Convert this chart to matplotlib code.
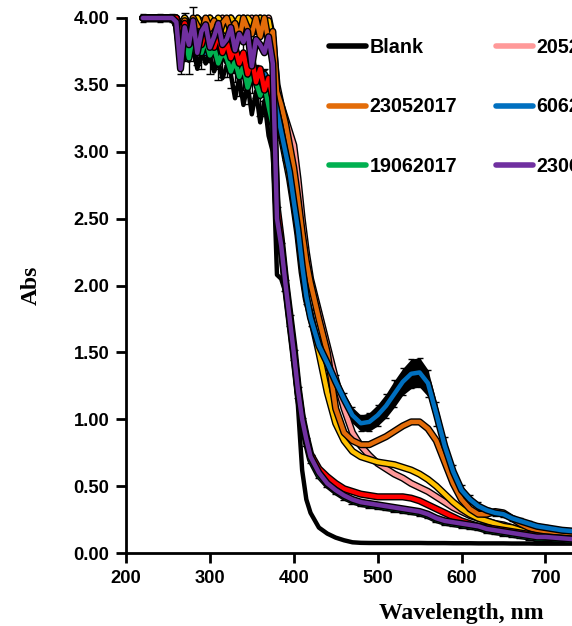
import matplotlib
matplotlib.use("Agg")
import matplotlib.pyplot as plt
from matplotlib.lines import Line2D
import numpy as np

# wavelength grid, nm
wl = [220, 240, 255, 260, 265, 270, 275, 280, 285, 290, 295, 300, 305, 310, 315, 320,
      325, 330, 335, 340, 345, 350, 355, 360, 365, 370, 375,
      380, 385, 390, 395, 400, 405, 410, 415, 420,
      430, 440, 450, 460, 470, 480, 490, 500, 510, 520, 530, 540, 550, 560, 570, 580,
      590, 600, 610, 620, 630, 640, 650, 660, 670, 680, 690, 700,
      720, 740, 760, 780, 800]

blank = [4.0, 4.0, 4.0, 3.98, 3.70, 3.85, 3.68, 3.78, 3.62, 3.74, 3.66, 3.72, 3.60, 3.68, 3.55, 3.64,
         3.58, 3.40, 3.55, 3.35, 3.50, 3.28, 3.45, 3.22, 3.38, 3.12, 3.00,
         2.08, 2.05, 1.95, 1.75, 1.45, 1.10, 0.62, 0.40, 0.30,
         0.19, 0.145, 0.115, 0.095, 0.08, 0.076, 0.075, 0.075, 0.075, 0.075, 0.075, 0.075, 0.075, 0.074, 0.074, 0.074,
         0.073, 0.073, 0.073, 0.072, 0.072, 0.072, 0.072, 0.071, 0.071, 0.071, 0.070, 0.070,
         0.070, 0.070, 0.069, 0.069, 0.068]

pink = [4.0, 4.0, 4.0, 4.0, 3.88, 4.0, 3.95, 3.86, 4.0, 3.97, 3.90, 4.0, 3.93, 3.84, 4.0, 3.96,
        4.0, 3.88, 3.98, 4.0, 3.86, 4.0, 3.94, 4.0, 3.90, 4.0, 3.85,
        3.50, 3.35, 3.25, 3.15, 3.05, 2.80, 2.50, 2.25, 2.05,
        1.80, 1.55, 1.30, 1.08, 0.90, 0.80, 0.73, 0.67, 0.63, 0.59, 0.56, 0.52, 0.49, 0.46, 0.42, 0.38,
        0.34, 0.31, 0.28, 0.26, 0.24, 0.22, 0.21, 0.19, 0.17, 0.16, 0.15, 0.14,
        0.12, 0.11, 0.10, 0.09, 0.09]

orange = [4.0, 4.0, 4.0, 4.0, 3.90, 3.98, 3.84, 4.0, 3.94, 3.88, 4.0, 3.92, 3.98, 3.86, 3.96, 4.0,
          3.90, 3.96, 3.84, 4.0, 3.92, 3.88, 4.0, 3.86, 4.0, 3.82, 3.90,
          3.45, 3.35, 3.22, 3.05, 2.88, 2.65, 2.40, 2.18, 2.02,
          1.75, 1.50, 1.08, 0.90, 0.84, 0.81, 0.81, 0.84, 0.87, 0.91, 0.95, 0.98, 0.98, 0.93, 0.84, 0.68,
          0.52, 0.40, 0.33, 0.29, 0.29, 0.31, 0.30, 0.26, 0.22, 0.19, 0.17, 0.16,
          0.14, 0.13, 0.12, 0.11, 0.11]

blue = [4.0, 4.0, 4.0, 3.98, 3.78, 3.92, 3.85, 3.76, 3.90, 3.82, 3.74, 3.86, 3.80, 3.70, 3.78, 3.68,
        3.74, 3.62, 3.70, 3.58, 3.66, 3.54, 3.62, 3.50, 3.58, 3.52, 3.45,
        3.30, 3.15, 3.00, 2.85, 2.63, 2.42, 2.15, 1.92, 1.76,
        1.55, 1.42, 1.28, 1.15, 1.03, 0.97, 0.98, 1.03, 1.10, 1.19, 1.28, 1.34, 1.35, 1.27, 1.04, 0.80,
        0.61, 0.47, 0.40, 0.35, 0.32, 0.30, 0.29, 0.26, 0.24, 0.22, 0.20, 0.19,
        0.17, 0.16, 0.15, 0.14, 0.13]

blue_err = [0.03, 0.03, 0.03, 0.03, 0.03, 0.03, 0.03, 0.03, 0.03, 0.03, 0.03, 0.03, 0.03, 0.03, 0.03, 0.03,
            0.03, 0.03, 0.03, 0.03, 0.03, 0.03, 0.03, 0.03, 0.03, 0.03, 0.03,
            0.06, 0.06, 0.06, 0.06, 0.06, 0.06, 0.06, 0.06, 0.06,
            0.05, 0.05, 0.05, 0.05, 0.06, 0.06, 0.07, 0.08, 0.09, 0.10, 0.10, 0.11, 0.11, 0.10, 0.09, 0.07,
            0.05, 0.04, 0.03, 0.03, 0.02, 0.02, 0.02, 0.02, 0.02, 0.02, 0.02, 0.02,
            0.02, 0.02, 0.02, 0.02, 0.02]

green = [4.0, 4.0, 4.0, 3.95, 3.72, 3.86, 3.70, 3.88, 3.80, 3.74, 3.84, 3.72, 3.78, 3.66, 3.74, 3.70,
         3.60, 3.68, 3.56, 3.64, 3.48, 3.58, 3.52, 3.42, 3.50, 3.34, 3.20,
         2.55, 2.28, 2.00, 1.74, 1.48, 1.20, 0.98, 0.83, 0.70,
         0.58, 0.51, 0.46, 0.42, 0.39, 0.37, 0.36, 0.35, 0.34, 0.33, 0.32, 0.31, 0.30, 0.28, 0.25, 0.23,
         0.22, 0.21, 0.20, 0.19, 0.17, 0.16, 0.15, 0.14, 0.13, 0.12, 0.11, 0.11,
         0.10, 0.09, 0.09, 0.08, 0.08]

green_err = [0.0, 0.0, 0.0, 0.0, 0.14, 0.18, 0.12, 0.20, 0.15, 0.12, 0.17, 0.14, 0.16, 0.12, 0.18, 0.14,
             0.12, 0.16, 0.14, 0.18, 0.12, 0.14, 0.12, 0.15, 0.12, 0.10, 0.08,
             0.04, 0.04, 0.04, 0.04, 0.04, 0.04, 0.03, 0.03, 0.03,
             0.02, 0.02, 0.02, 0.02, 0.02, 0.02, 0.02, 0.02, 0.02, 0.02, 0.02, 0.02, 0.02, 0.02, 0.02, 0.02,
             0.02, 0.02, 0.02, 0.02, 0.02, 0.02, 0.02, 0.02, 0.02, 0.02, 0.02, 0.02,
             0.02, 0.02, 0.02, 0.02, 0.02]

purple = [4.0, 4.0, 4.0, 3.97, 3.62, 3.93, 3.80, 3.98, 3.74, 3.90, 3.95, 3.78, 3.86, 3.96, 3.80, 3.84,
          3.93, 3.76, 3.88, 3.82, 3.90, 3.64, 3.84, 3.80, 3.74, 3.86, 3.66,
          2.50, 2.30, 2.02, 1.76, 1.50, 1.22, 1.00, 0.85, 0.72,
          0.60, 0.52, 0.47, 0.43, 0.40, 0.38, 0.37, 0.36, 0.35, 0.34, 0.33, 0.32, 0.31, 0.29, 0.26, 0.24,
          0.23, 0.22, 0.21, 0.20, 0.18, 0.17, 0.16, 0.15, 0.14, 0.13, 0.12, 0.12,
          0.11, 0.10, 0.10, 0.09, 0.09]

red = [4.0, 4.0, 4.0, 4.0, 3.86, 3.96, 3.82, 3.92, 3.88, 3.80, 3.90, 3.84, 3.78, 3.88, 3.74, 3.82,
       3.70, 3.78, 3.66, 3.74, 3.58, 3.70, 3.52, 3.62, 3.46, 3.55, 3.40,
       2.60, 2.35, 2.05, 1.80, 1.55, 1.25, 1.02, 0.87, 0.74,
       0.63, 0.57, 0.52, 0.48, 0.46, 0.44, 0.43, 0.42, 0.42, 0.42, 0.42, 0.41, 0.39, 0.36, 0.33, 0.30,
       0.27, 0.24, 0.22, 0.20, 0.19, 0.18, 0.17, 0.16, 0.15, 0.14, 0.13, 0.12,
       0.11, 0.10, 0.10, 0.09, 0.09]

yellow = [4.0, 4.0, 4.0, 4.0, 3.94, 4.0, 3.90, 3.97, 4.0, 3.92, 3.98, 4.0, 3.88, 4.0, 3.95, 3.90,
          4.0, 3.94, 4.0, 3.86, 4.0, 3.96, 3.90, 4.0, 3.92, 3.98, 3.80,
          3.30, 3.12, 2.96, 2.80, 2.60, 2.38, 2.10, 1.90, 1.78,
          1.50, 1.20, 0.97, 0.84, 0.76, 0.72, 0.70, 0.68, 0.67, 0.66, 0.64, 0.62, 0.59, 0.55, 0.50, 0.44,
          0.38, 0.33, 0.29, 0.26, 0.24, 0.22, 0.20, 0.19, 0.17, 0.16, 0.15, 0.14,
          0.13, 0.12, 0.11, 0.10, 0.10]

# name, values, colour  (drawing order)
series = [
    ("Blank", blank, "black"),
    ("2052017", pink, "#FF9999"),
    ("13062017", yellow, "#FFC000"),
    ("23052017", orange, "#E36C09"),
    ("6062017", blue, "#0070C0"),
    ("19062017", green, "#00B050"),
    ("30052017", red, "#FF0000"),
    ("23062017", purple, "#7030A0"),
]

fig = plt.figure(figsize=(5.72, 6.26), dpi=100)
ax = fig.add_axes([126 / 572, 73 / 626, 671 / 572, 535 / 626])

x = np.array(wl)

# error band / bars (black)
ax.fill_between(x, np.array(blue) - blue_err, np.array(blue) + blue_err, color="black", lw=0, clip_on=False)
ax.errorbar(x, blue, yerr=blue_err, fmt="none", ecolor="black", elinewidth=1, capsize=2, clip_on=False)
ax.errorbar(x, green, yerr=green_err, fmt="none", ecolor="black", elinewidth=1, capsize=3, clip_on=False)

for name, y, c in series:
    if name != "Blank":
        ax.plot(x, y, color="black", lw=5.2, solid_capstyle="round", clip_on=False)
    ax.plot(x, y, color=c, lw=3.2, solid_capstyle="round", clip_on=False)

ax.set_xlim(200, 1000)
ax.set_ylim(0, 4.0)
ax.set_xticks(range(200, 1001, 100))
ax.set_yticks(np.arange(0, 4.01, 0.5))
ax.set_yticklabels([f"{v:.2f}" for v in np.arange(0, 4.01, 0.5)])

for s in ["top", "right"]:
    ax.spines[s].set_visible(False)
for s in ["left", "bottom"]:
    ax.spines[s].set_linewidth(2)

ax.tick_params(direction="out", length=7, width=2, pad=5)
for lab in ax.get_xticklabels() + ax.get_yticklabels():
    lab.set_fontfamily("Liberation Sans")
    lab.set_fontweight("bold")
    lab.set_fontsize(13.2)

ax.set_xlabel("Wavelength, nm", fontfamily="Liberation Serif", fontweight="bold", fontsize=17, labelpad=12)
ax.set_ylabel("Abs", fontfamily="Liberation Serif", fontweight="bold", fontsize=17, labelpad=23)

# legend filled row by row as in the original (3 columns, third one runs off the page)
order = ["Blank", "23052017", "19062017", "2052017", "6062017", "23062017", "30052017", "13062017"]
cmap = {n: c for n, _, c in series}
handles = [Line2D([0], [0], color=cmap[n], lw=4, solid_capstyle="round") for n in order]
leg = fig.legend(handles, order, ncol=3, frameon=False, loc="upper left",
                 bbox_to_anchor=(329 / 572, 1 - 38 / 626),
                 prop={"family": "Liberation Sans", "weight": "bold", "size": 14.2},
                 handlelength=1.9, handletextpad=0.15, labelspacing=2.05,
                 columnspacing=1.95, borderpad=0, borderaxespad=0)

fig.savefig("out.png", dpi=100)
